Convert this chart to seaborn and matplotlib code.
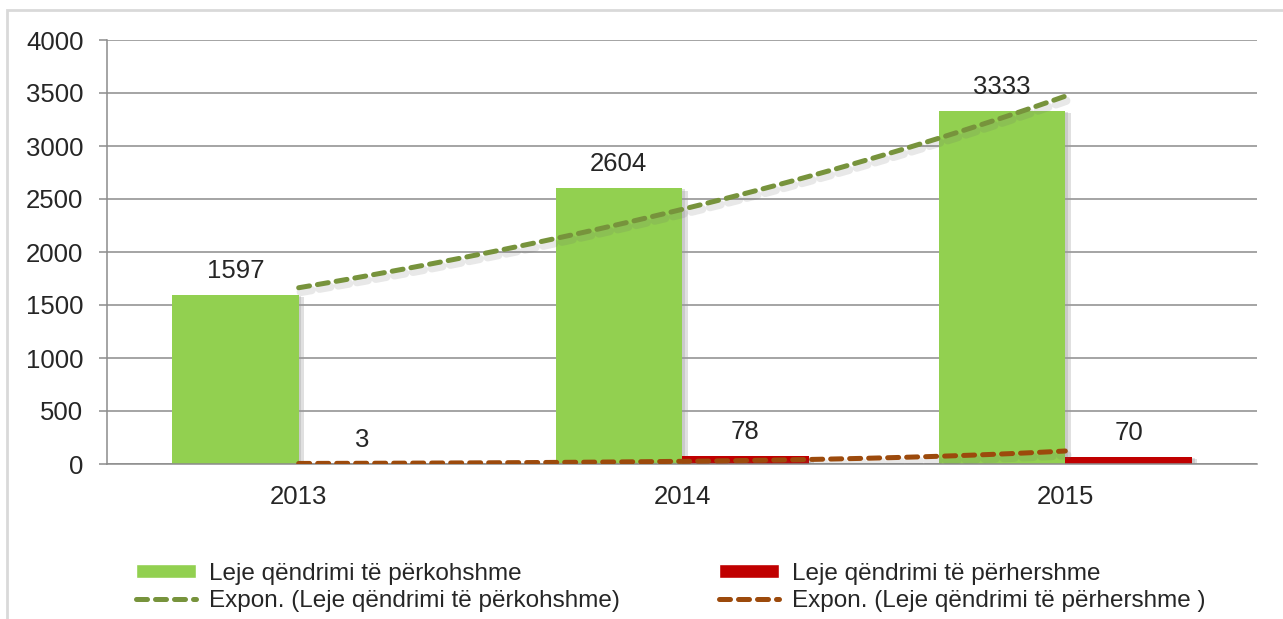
import numpy as np
import pandas as pd
import matplotlib
matplotlib.use("Agg")
import matplotlib.pyplot as plt
import matplotlib.patheffects as pe
from matplotlib.patches import Patch, Rectangle
from matplotlib.lines import Line2D
import seaborn as sns

# data
years = ["2013", "2014", "2015"]
temporary = [1597, 2604, 3333]   # Leje qëndrimi të përkohshme
permanent = [3, 78, 70]          # Leje qëndrimi të përhershme
series = ["Leje qëndrimi të përkohshme", "Leje qëndrimi të përhershme"]
trend_labels = ["Expon. (Leje qëndrimi të përkohshme)",
                "Expon. (Leje qëndrimi të përhershme )"]
yticks = list(range(0, 4001, 500))

bar_colors = ["#92D050", "#C00000"]
trend_colors = ["#77933C", "#9C4A0C"]

df = pd.DataFrame({
    "year": years * 2,
    "value": temporary + permanent,
    "series": [series[0]] * 3 + [series[1]] * 3,
})

sns.set_style("white")
plt.rcParams["font.family"] = ["Liberation Sans", "DejaVu Sans"]

fig = plt.figure(figsize=(12.83, 6.19), dpi=100)
ax = fig.add_axes([107 / 1283, 1 - 464 / 619, (1257 - 107) / 1283, (464 - 40) / 619])

sns.barplot(data=df, x="year", y="value", hue="series", hue_order=series,
            palette=bar_colors, width=0.66, saturation=1, ax=ax, legend=False,
            linewidth=0, zorder=2)

# soft shadow, roughly like the Excel effect
bar_shadow = [pe.SimplePatchShadow(offset=(4, -2), shadow_rgbFace="#9a9a9a", alpha=0.3),
              pe.SimplePatchShadow(offset=(2, -1), shadow_rgbFace="#9a9a9a", alpha=0.3),
              pe.Normal()]
for cont in ax.containers:
    for bar in cont:
        bar.set_path_effects(bar_shadow)
        h = bar.get_height()
        ax.annotate(f"{h:.0f}", (bar.get_x() + bar.get_width() / 2, h),
                    xytext=(0, 12), textcoords="offset points",
                    ha="center", va="baseline", fontsize=18.5)

# exponential trendlines, fitted as Excel does (x = 1, 2, 3)
xs = np.arange(1, len(years) + 1)
xx = np.linspace(1, len(years), 60)
line_shadow = [pe.SimpleLineShadow(offset=(1.5, -3), shadow_color="#666666", alpha=0.15,
                                   linewidth=6),
               pe.Normal()]
dash = (0, (2.2, 1.6))
for vals, col in zip([temporary, permanent], trend_colors):
    b, a = np.polyfit(xs, np.log(vals), 1)
    ax.plot(xx - 1, np.exp(a + b * xx), color=col, lw=3.6, ls=dash,
            dash_capstyle="round", zorder=4, path_effects=line_shadow)

ax.set_xlim(-0.5, len(years) - 0.5)
ax.set_ylim(0, 4000)
ax.set_yticks(yticks)
ax.set_yticklabels([str(t) for t in yticks])
ax.yaxis.grid(True, color="#8c8c8c", lw=1.1)
ax.set_axisbelow(True)
ax.set_xlabel("")
ax.set_ylabel("")

ax.set_xticks(np.arange(-0.5, len(years)), minor=True)
ax.tick_params(axis="x", which="major", length=0, pad=15, labelsize=18.5)
ax.tick_params(axis="x", which="minor", length=6, width=1.1, color="#8c8c8c", direction="out")
ax.tick_params(axis="y", length=6, width=1.1, color="#8c8c8c", direction="out",
               pad=11, labelsize=18.5, left=True)
for s in ["top", "right"]:
    ax.spines[s].set_visible(False)
for s in ["left", "bottom"]:
    ax.spines[s].set_color("#8c8c8c")
    ax.spines[s].set_linewidth(1.1)

handles = [
    Patch(facecolor=bar_colors[0], label=series[0]),
    Line2D([], [], color=trend_colors[0], lw=3.6, ls=dash,
           dash_capstyle="round", label=trend_labels[0]),
    Patch(facecolor=bar_colors[1], label=series[1]),
    Line2D([], [], color=trend_colors[1], lw=3.6, ls=dash,
           dash_capstyle="round", label=trend_labels[1]),
]
fig.legend(handles=handles, loc="upper left", bbox_to_anchor=(136 / 1283, 1 - 563 / 619),
           ncol=2, frameon=False, fontsize=17.5, handlelength=2.45, handleheight=0.5,
           handletextpad=0.55, columnspacing=4.1, labelspacing=0.2,
           borderpad=0, borderaxespad=0)

fig.patches.append(Rectangle((7 / 1283, -0.2), 1.2, 1.2 - 10 / 619, transform=fig.transFigure,
                             fill=False, edgecolor="#d9d9d9", lw=2))

fig.savefig("out.png", dpi=100)
